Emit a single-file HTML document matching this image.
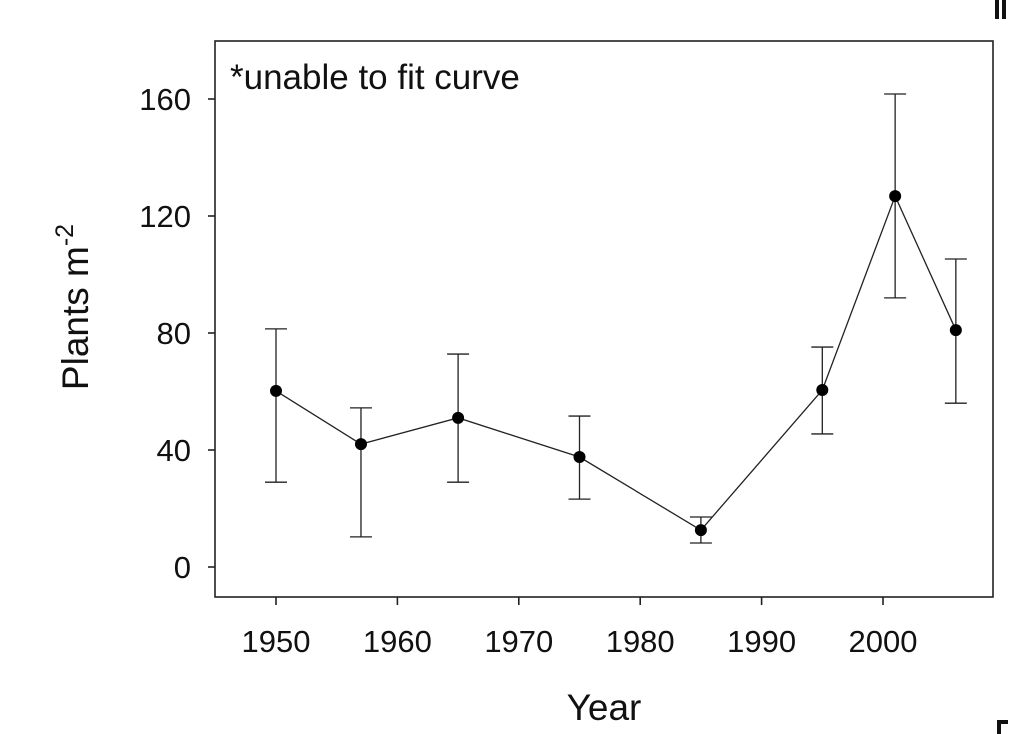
<!DOCTYPE html>
<html><head><style>
body{margin:0;background:#fff;}
svg{display:block;font-family:"Liberation Sans",Arial,sans-serif;}
</style></head><body>
<svg id="c" width="1010" height="734">
<rect x="995" y="0" width="4" height="19" fill="#111"/>
<rect x="1002" y="0" width="4" height="19" fill="#111"/>
<path d="M1008,722H999V734" stroke="#111" stroke-width="4" fill="none"/>
<g id="plot"></g>
</svg>
<script>
const years=[1950,1957,1965,1975,1985,1995,2001,2006];
const means=[60.2,42,51,37.6,12.6,60.5,126.8,81];
const upper=[81.4,54.4,72.8,51.6,17.1,75.2,161.7,105.3];
const lower=[29,10.3,29,23.2,8.2,45.5,92,56];
const yTicks=[0,40,80,120,160];
const xTicks=[1950,1960,1970,1980,1990,2000];
const L=215,T=41,R=993,B=597;
const xs=y=>276+(y-1950)*12.14;
const ys=v=>567-v*2.925;
const g=document.getElementById('plot');
const NS='http://www.w3.org/2000/svg';
function mk(t,a){const e=document.createElementNS(NS,t);for(const k in a)e.setAttribute(k,a[k]);g.appendChild(e);return e;}
let fr=mk('rect',{x:L,y:T,width:R-L,height:B-T,fill:'none',stroke:'#222','stroke-width':1.6});


yTicks.forEach(v=>{
 let t=mk('line',{x1:L-7,x2:L,y1:ys(v),y2:ys(v),stroke:'#222','stroke-width':1.6});
 
 
 let l=mk('text',{x:191,y:ys(v)+11,'font-size':31,'text-anchor':'end',fill:'#111'});l.textContent=v;
 
 
});
xTicks.forEach(v=>{
 let t=mk('line',{x1:xs(v),x2:xs(v),y1:B,y2:B+8,stroke:'#222','stroke-width':1.6});
 
 
 let l=mk('text',{x:xs(v),y:652,'font-size':31,'text-anchor':'middle',fill:'#111'});l.textContent=v;
 
 
});
let xt=mk('text',{x:604,y:720,'font-size':37,'text-anchor':'middle',fill:'#111'});xt.textContent='Year';


let yt=mk('text',{transform:'translate(88,307) rotate(-90)','font-size':37,'text-anchor':'middle',fill:'#111'});
yt.innerHTML='Plants m<tspan dy="-15" font-size="25">-2</tspan>';


let note=mk('text',{x:230,y:89,'font-size':35,fill:'#111'});note.textContent='*unable to fit curve';


years.forEach((y,i)=>{
 const x=xs(y);
 let e=mk('path',{d:`M${x},${ys(upper[i])}V${ys(lower[i])}M${x-11},${ys(upper[i])}H${x+11}M${x-11},${ys(lower[i])}H${x+11}`,stroke:'#222','stroke-width':1.3,fill:'none'});
 
 
});
let ln=mk('polyline',{points:years.map((y,i)=>xs(y)+','+ys(means[i])).join(' '),fill:'none',stroke:'#222','stroke-width':1.3});


years.forEach((y,i)=>{
 let c=mk('circle',{cx:xs(y),cy:ys(means[i]),r:6,fill:'#000'});
 
 
});
</script>
</body></html>
